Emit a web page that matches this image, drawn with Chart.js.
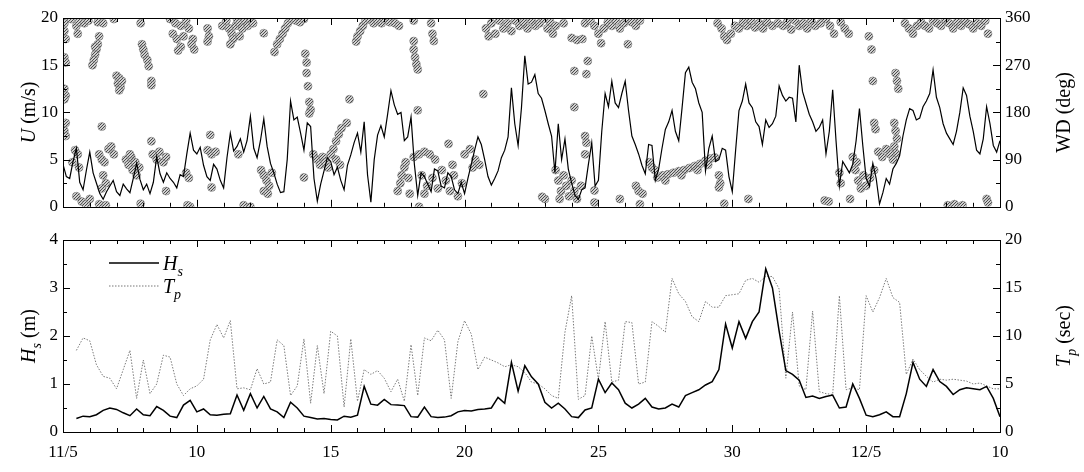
<!DOCTYPE html>
<html>
<head>
<meta charset="utf-8">
<script src="https://cdn.jsdelivr.net/npm/chart.js@4.4.1/dist/chart.umd.min.js"></script>
<style>
  body { margin: 0; background: #fff; }
  #wrap { position: relative; width: 1084px; height: 472px; }
  #topChart { position: absolute; left: 0; top: 0; }
  #botChart { position: absolute; left: 0; top: 222px; }
</style>
</head>
<body>
<div id="wrap">
  <canvas id="topChart" width="1084" height="222"></canvas>
  <canvas id="botChart" width="1084" height="250"></canvas>
</div>
<script>
// days counted from 11/5
const dayLabels = ['11/5', '10', '15', '20', '25', '30', '12/5', '10'];

// wind speed U (m/s), every 3 h from day 0 (one row per day)
const U_START = 0, U_STEP = 0.125;
const uSpeed = [
  4.5, 3.2, 3.0, 4.8, 6.2, 2.6, 1.8, 3.9,
  5.8, 3.6, 2.5, 1.4, 0.8, 1.6, 2.2, 2.8,
  1.6, 1.2, 2.4, 1.9, 1.5, 3.0, 4.6, 2.9,
  1.8, 2.4, 1.4, 2.6, 5.3, 3.5, 2.6, 3.6,
  3.0, 2.6, 2.0, 3.4, 3.2, 5.6, 7.8, 6.0,
  5.6, 6.3, 4.4, 3.2, 2.8, 4.5, 4.0, 2.8,
  2.0, 5.2, 7.8, 5.9, 6.4, 7.2, 5.8, 7.0,
  9.6, 6.2, 5.2, 7.0, 9.3, 6.4, 4.6, 3.6,
  2.4, 1.5, 1.6, 5.0, 11.2, 9.2, 9.5, 7.8,
  6.0, 8.9, 8.5, 3.0, 0.6, 2.4, 3.8, 5.2,
  4.8, 3.4, 4.2, 2.8, 1.8, 4.4, 5.5, 6.8,
  7.8, 5.8, 9.0, 3.4, 0.5, 5.0, 7.6, 8.6,
  7.4, 9.8, 12.3, 10.8, 9.8, 10.0, 7.0, 7.4,
  9.5, 4.5, 1.2, 3.6, 3.2, 2.4, 1.6, 4.0,
  3.8, 2.2, 2.0, 3.6, 3.2, 1.8, 1.4, 2.6,
  1.4, 3.0, 4.5, 6.0, 7.4, 6.6, 5.0, 3.2,
  2.3, 3.0, 3.8, 5.2, 6.0, 7.4, 12.6, 8.8,
  6.5, 10.5, 16.0, 13.0, 13.2, 14.0, 12.0, 11.5,
  10.2, 8.8, 7.5, 3.6, 8.8, 5.0, 7.2, 4.0,
  2.5, 1.2, 0.8, 1.8, 2.0, 4.5, 6.8, 2.2,
  2.8, 8.0, 12.0, 10.6, 13.3, 11.0, 10.5, 12.0,
  13.3, 10.2, 7.5, 6.6, 5.6, 4.4, 3.5, 6.6,
  6.5, 2.8, 4.0, 6.2, 8.2, 9.0, 10.2, 8.0,
  7.0, 10.5, 14.2, 14.8, 13.2, 12.5, 11.0, 10.0,
  3.8, 6.2, 7.5, 4.8, 5.0, 6.2, 6.0, 3.2,
  1.6, 6.0, 10.2, 11.2, 13.0, 11.0, 10.5, 9.0,
  8.5, 6.6, 9.2, 8.4, 8.8, 9.6, 12.8, 11.8,
  11.2, 11.6, 11.5, 9.0, 15.0, 12.2, 11.0, 9.8,
  9.0, 8.0, 8.4, 9.2, 5.6, 8.0, 12.4, 7.0,
  2.2, 4.8, 4.2, 3.6, 4.5, 7.0, 10.4, 6.5,
  3.0, 2.2, 4.6, 3.0, 0.3, 1.5, 3.0, 2.4,
  4.0, 4.6, 5.4, 7.5, 9.2, 10.4, 10.2, 9.2,
  9.4, 10.6, 11.2, 12.0, 14.5, 11.6, 10.5, 8.8,
  7.8, 7.2, 6.6, 8.0, 10.0, 12.6, 11.8, 9.6,
  8.0, 6.0, 5.6, 7.2, 10.6, 8.8, 6.5, 5.8,
  7.0
];

// wind direction WD (deg): [day, deg]
const wdPoints = [
  [0.05, 350], [0.05, 335], [0.1, 320], [0.05, 285], [0.1, 275], [0.05, 225], [0.1, 212], [0.05, 205],
  [0.1, 160], [0.05, 145], [0.1, 135],
  [0.3, 358], [0.5, 345], [0.55, 330], [0.6, 352], [0.8, 350], [0.95, 355], [1.3, 352], [1.5, 350], [1.9, 358],
  [1.35, 325], [1.3, 310], [1.25, 300], [1.2, 290], [1.15, 280], [1.1, 270], [1.2, 305],
  [2.0, 250], [2.1, 245], [2.05, 235], [2.15, 228], [2.2, 240], [2.1, 222],
  [2.9, 350], [2.95, 310], [3.0, 300], [3.05, 290], [3.15, 280], [3.2, 268], [3.3, 240], [3.3, 232],
  [4.0, 358], [4.2, 350], [4.4, 345], [4.6, 355], [4.1, 330], [4.25, 320], [4.4, 305], [4.3, 298],
  [4.5, 325], [4.7, 340], [4.85, 320], [4.9, 300], [4.8, 310],
  [5.4, 340], [5.45, 325], [5.4, 315],
  [5.95, 345], [6.1, 355], [6.2, 340], [6.3, 330], [6.35, 320], [6.45, 345], [6.5, 358], [6.6, 350],
  [6.7, 340], [6.8, 355], [6.9, 345], [7.0, 358], [7.1, 350], [6.25, 310], [6.6, 325], [7.5, 331],
  [7.9, 295], [8.0, 310], [8.1, 320], [8.2, 330], [8.3, 340], [8.4, 350], [8.55, 358], [8.7, 355],
  [8.85, 352], [9.0, 358],
  [0.35, 85], [0.45, 108], [0.55, 100], [0.6, 75], [0.5, 20], [0.7, 10], [0.85, 5], [1.0, 15],
  [1.45, 153], [1.35, 100], [1.45, 90], [1.55, 85], [1.7, 110], [1.8, 115], [1.9, 100],
  [1.5, 60], [1.6, 45], [1.45, 35], [1.35, 5], [1.6, 3],
  [2.35, 90], [2.45, 80], [2.55, 95], [2.6, 70], [2.7, 85], [2.75, 60], [2.85, 75], [2.5, 100],
  [3.3, 125], [3.35, 100], [3.5, 90], [3.6, 105], [3.75, 85], [3.85, 95],
  [2.9, 6], [3.85, 30], [4.6, 65], [4.7, 55], [4.75, 0], [4.65, 3],
  [5.4, 108], [5.55, 100], [5.7, 105], [5.5, 137], [5.55, 37], [6.55, 100], [6.75, 3], [7.0, 0],
  [7.4, 70], [7.5, 60], [7.6, 50], [7.7, 40], [7.5, 30], [7.8, 65], [7.65, 25], [9.0, 56],
  [9.05, 292], [9.1, 275], [9.1, 255], [9.15, 230], [9.2, 200], [9.25, 185], [9.2, 178],
  [10.7, 205], [10.6, 160], [10.1, 110], [10.2, 125], [10.3, 138], [10.4, 150],
  [9.35, 100], [9.5, 90], [9.6, 80], [9.7, 95], [9.8, 85], [9.9, 75], [10.0, 100], [10.2, 90], [10.35, 80],
  [10.95, 315], [11.0, 325], [11.1, 335], [11.2, 345], [11.3, 355], [11.45, 358], [11.6, 350], [11.75, 355],
  [11.9, 350], [12.0, 358], [12.2, 352], [12.4, 350], [12.55, 345],
  [13.1, 355], [13.75, 350], [13.1, 316], [13.8, 330], [13.85, 316],
  [13.1, 300], [13.15, 285], [13.2, 272], [13.25, 262], [13.25, 184],
  [12.5, 30], [12.6, 45], [12.65, 60], [12.75, 75], [12.8, 85], [12.9, 55], [12.95, 25],
  [13.1, 95], [13.3, 100], [13.5, 105], [13.7, 100], [13.9, 90],
  [13.4, 60], [13.6, 40], [13.8, 55], [14.0, 35], [13.5, 25],
  [14.15, 70], [14.3, 50], [14.45, 30], [14.6, 60], [14.75, 20], [14.9, 45], [14.55, 80], [14.4, 120],
  [15.0, 100], [15.2, 110], [15.4, 90], [15.55, 80], [15.3, 75], [13.3, 0], [15.7, 215],
  [15.8, 340], [15.9, 325], [16.0, 350], [16.15, 330], [16.3, 355], [16.45, 340], [16.6, 350], [16.75, 335],
  [16.9, 355], [17.05, 345], [17.2, 352], [17.35, 340], [17.5, 355], [17.65, 345], [17.8, 350], [17.95, 358],
  [18.0, 15],
  [18.1, 340], [18.2, 352], [18.3, 330], [18.4, 345], [18.7, 350], [19.0, 322], [19.2, 318], [19.4, 320],
  [19.5, 350], [19.7, 355], [19.85, 345], [20.0, 330], [20.1, 312], [20.2, 340], [20.35, 352], [20.5, 345],
  [20.65, 355], [20.8, 340], [20.95, 350], [21.1, 358], [21.1, 310], [21.25, 352], [21.4, 345], [21.55, 355],
  [19.6, 278], [19.1, 259], [19.55, 253], [19.1, 190], [19.5, 135], [19.55, 122], [19.5, 100],
  [18.4, 70], [18.5, 50], [18.6, 30], [18.7, 60], [18.8, 40], [18.9, 20], [19.0, 50], [19.1, 30],
  [19.2, 15], [19.35, 40], [18.55, 15], [17.9, 19], [19.85, 31], [19.85, 8], [20.8, 15],
  [21.4, 40], [21.5, 30], [21.65, 25], [21.55, 5], [21.9, 85], [22.0, 75], [22.1, 70],
  [22.2, 56], [22.4, 60], [22.6, 62], [22.8, 65], [23.0, 68], [23.2, 70], [23.4, 74], [23.6, 78],
  [23.8, 82], [24.0, 88], [24.2, 92], [24.35, 94], [22.5, 50], [23.1, 60], [23.7, 70], [24.1, 80],
  [24.5, 60], [24.55, 45], [24.5, 37], [24.7, 6], [25.6, 15],
  [24.45, 350], [24.6, 340], [24.7, 325], [24.8, 318], [24.95, 330], [25.1, 345], [25.25, 340], [25.4, 352],
  [25.55, 345], [25.7, 355], [25.85, 342], [26.0, 350], [26.15, 340], [26.3, 352], [26.5, 345], [26.7, 350],
  [26.9, 345], [27.05, 352], [27.2, 338], [27.35, 355], [27.5, 345], [27.65, 350], [27.8, 340], [27.95, 355],
  [28.1, 345], [28.3, 350], [28.5, 358], [28.65, 345], [28.8, 330], [29.05, 352], [29.2, 340], [29.35, 330],
  [30.1, 325], [30.2, 300], [30.25, 240], [31.1, 255], [31.15, 240], [31.2, 225],
  [31.45, 350], [31.6, 340], [31.75, 330], [31.9, 345], [32.05, 352], [32.2, 345], [32.35, 340], [32.5, 355],
  [32.65, 350], [32.8, 345], [32.95, 358], [33.1, 350], [33.25, 340], [33.4, 352], [33.55, 345], [33.7, 355],
  [33.85, 348], [34.0, 340], [34.15, 350], [34.3, 345], [34.45, 355], [34.55, 330],
  [30.3, 160], [30.35, 148], [31.05, 160], [31.1, 145], [31.15, 130], [31.05, 115], [31.1, 102],
  [30.45, 105], [30.6, 95], [30.75, 110], [30.9, 100], [31.0, 90],
  [29.5, 95], [29.6, 70], [29.7, 50], [29.8, 35], [29.9, 60], [29.65, 85], [29.0, 65], [29.05, 45],
  [30.0, 40], [30.15, 55], [30.3, 70], [28.45, 12], [28.6, 10], [29.4, 15],
  [33.05, 3], [33.3, 5], [33.6, 3], [34.5, 15], [34.55, 8]
];

// significant wave height Hs (m) and peak period Tp (s), every 6 h from day 0.5
const WAVE_START = 0.5, WAVE_STEP = 0.25;
const hsHeight = [
  0.28, 0.33, 0.32, 0.36, 0.45, 0.50, 0.47, 0.40, 0.34, 0.48, 0.36, 0.34, 0.53, 0.45, 0.33, 0.30,
  0.56, 0.66, 0.42, 0.48, 0.36, 0.35, 0.37, 0.38, 0.77, 0.45, 0.80, 0.50, 0.74, 0.48, 0.42, 0.30,
  0.62, 0.50, 0.33, 0.30, 0.27, 0.28, 0.26, 0.25, 0.33, 0.31, 0.35, 0.95, 0.58, 0.56, 0.68, 0.57,
  0.56, 0.55, 0.32, 0.31, 0.52, 0.32, 0.30, 0.31, 0.34, 0.42, 0.45, 0.44, 0.47, 0.48, 0.50, 0.72,
  0.60, 1.45, 0.85, 1.38, 1.15, 1.00, 0.62, 0.50, 0.60, 0.48, 0.32, 0.30, 0.46, 0.50, 1.10, 0.82,
  1.02, 0.88, 0.60, 0.50, 0.58, 0.70, 0.52, 0.48, 0.50, 0.58, 0.52, 0.76, 0.82, 0.88, 0.98, 1.05,
  1.30, 2.25, 1.75, 2.30, 1.95, 2.30, 2.50, 3.40, 3.00, 2.10, 1.28, 1.20, 1.08, 0.72, 0.75, 0.70,
  0.74, 0.77, 0.50, 0.52, 1.00, 0.70, 0.35, 0.32, 0.36, 0.42, 0.32, 0.32, 0.80, 1.45, 1.10, 0.95,
  1.30, 1.05, 0.95, 0.78, 0.88, 0.92, 0.90, 0.88, 0.95, 0.70, 0.32
];
const tpPeriod = [
  8.5, 9.8, 9.5, 7.0, 5.8, 5.6, 4.5, 6.5, 8.5, 3.5, 7.5, 4.0, 5.0, 8.0, 7.8, 5.0,
  3.8, 4.5, 4.8, 5.5, 9.6, 11.2, 9.8, 11.6, 4.5, 4.6, 4.4, 6.6, 5.0, 5.2, 9.6, 9.0,
  3.8, 4.8, 9.7, 3.0, 9.0, 4.0, 10.5, 10.0, 2.6, 9.7, 3.2, 6.5, 6.0, 6.4, 5.6, 4.2,
  5.5, 3.2, 9.1, 3.8, 9.8, 9.5, 10.6, 9.6, 3.5, 9.4, 11.6, 10.2, 6.5, 7.8, 7.5, 7.2,
  6.8, 7.0, 6.8, 6.2, 5.2, 5.0, 4.5, 3.8, 3.5, 10.4, 14.2, 3.4, 3.8, 10.0, 5.5, 11.5,
  5.2, 5.4, 11.5, 11.4, 5.0, 5.2, 11.5, 11.0, 10.4, 16.0, 14.4, 13.6, 12.0, 11.5, 13.6, 13.0,
  13.0, 14.2, 14.3, 14.4, 15.8, 16.0, 15.6, 16.2, 16.2, 14.9, 5.6, 12.5, 4.8, 4.4, 12.6, 4.2,
  4.0, 3.9, 14.2, 4.4, 4.6, 4.4, 14.2, 12.5, 14.0, 16.0, 14.0, 13.5, 6.0, 7.6, 6.5, 5.8,
  5.2, 5.5, 5.4, 5.5, 5.4, 5.3, 5.0, 5.1, 4.8, 4.5, 4.5
];

const FONT = "'Liberation Serif', 'Times New Roman', serif";
Chart.defaults.font.family = FONT;
Chart.defaults.color = '#000';

const series = (vals, start, step) => vals.map((v, i) => ({ x: start + i * step, y: v }));

// hatched grey fill for the direction markers
function hatch() {
  const c = document.createElement('canvas');
  c.width = 3; c.height = 3;
  const p = c.getContext('2d');
  p.fillStyle = '#cfcfcf';
  p.fillRect(0, 0, 3, 3);
  p.strokeStyle = '#4a4a4a';
  p.lineWidth = 1;
  p.beginPath();
  p.moveTo(0, 3); p.lineTo(3, 0);
  p.stroke();
  return p.createPattern(c, 'repeat');
}

// text with italic and subscript parts
function drawRich(ctx, parts, x, y, rot, size, align) {
  ctx.save();
  ctx.translate(x, y);
  ctx.rotate(rot);
  ctx.fillStyle = '#000';
  ctx.textBaseline = 'alphabetic';
  ctx.textAlign = 'left';
  const fontOf = p => (p.italic ? 'italic ' : '') + Math.round(p.sub ? size * 0.72 : size) + 'px ' + FONT;
  let w = 0;
  parts.forEach(p => { ctx.font = fontOf(p); w += ctx.measureText(p.text).width; });
  let cx = align === 'left' ? 0 : -w / 2;
  parts.forEach(p => {
    ctx.font = fontOf(p);
    ctx.fillText(p.text, cx, size * 0.35 + (p.sub ? size * 0.28 : 0));
    cx += ctx.measureText(p.text).width;
  });
  ctx.restore();
}

// frame with inward ticks on all four sides, plus titles
const framePlugin = {
  id: 'frame',
  afterDraw(chart, args, o) {
    const { ctx, chartArea: a, scales } = chart;
    ctx.save();
    ctx.strokeStyle = '#000';
    ctx.lineWidth = 1;
    ctx.strokeRect(Math.round(a.left) + 0.5, Math.round(a.top) + 0.5,
      Math.round(a.right - a.left), Math.round(a.bottom - a.top));
    ctx.beginPath();
    for (let d = 0; d <= 35; d++) {
      const x = Math.round(scales.x.getPixelForValue(d)) + 0.5;
      const len = d % 5 === 0 ? 7 : 4;
      ctx.moveTo(x, a.bottom); ctx.lineTo(x, a.bottom - len);
      ctx.moveTo(x, a.top); ctx.lineTo(x, a.top + len);
    }
    [['y', o.left, 1, a.left], ['y2', o.right, -1, a.right]].forEach(([id, s, dir, x0]) => {
      const sc = scales[id];
      for (let v = sc.min; v <= sc.max + 1e-9; v += s.minor) {
        const y = Math.round(sc.getPixelForValue(v)) + 0.5;
        const major = Math.abs(v / s.major - Math.round(v / s.major)) < 1e-6;
        const len = major ? 7 : 4;
        ctx.moveTo(x0, y); ctx.lineTo(x0 + dir * len, y);
      }
    });
    ctx.stroke();
    ctx.restore();
    const midY = (a.top + a.bottom) / 2;
    drawRich(ctx, o.leftTitle, 28, midY, -Math.PI / 2, 20);
    drawRich(ctx, o.rightTitle, 1063, midY, -Math.PI / 2, 20);
    if (o.legend) {
      const lx = a.left + 46, ly1 = a.top + 23, ly2 = a.top + 46;
      ctx.save();
      ctx.lineWidth = 1.4;
      ctx.strokeStyle = '#000';
      ctx.beginPath(); ctx.moveTo(lx, ly1); ctx.lineTo(lx + 50, ly1); ctx.stroke();
      ctx.lineWidth = 1;
      ctx.strokeStyle = '#777';
      ctx.setLineDash([1.5, 1.5]);
      ctx.beginPath(); ctx.moveTo(lx, ly2); ctx.lineTo(lx + 50, ly2); ctx.stroke();
      ctx.restore();
      drawRich(ctx, [{ text: 'H', italic: true }, { text: 's', italic: true, sub: true }], lx + 54, ly1, 0, 20, 'left');
      drawRich(ctx, [{ text: 'T', italic: true }, { text: 'p', italic: true, sub: true }], lx + 54, ly2, 0, 20, 'left');
    }
  }
};

function fixedWidth(w) { return s => { s.width = w; }; }
function fixedHeight(h) { return s => { s.height = h; }; }

const tickFont = { size: 17, family: FONT };

new Chart(document.getElementById('topChart'), {
  type: 'line',
  data: {
    datasets: [
      {
        label: 'U',
        data: series(uSpeed, U_START, U_STEP),
        borderColor: '#000',
        borderWidth: 1.2,
        pointRadius: 0,
        tension: 0,
        yAxisID: 'y',
        order: 0,
      },
      {
        type: 'scatter',
        label: 'WD',
        data: wdPoints.map(p => ({ x: p[0], y: p[1] })),
        backgroundColor: hatch(),
        borderColor: '#7a7a7a',
        borderWidth: 0.6,
        pointRadius: 4,
        yAxisID: 'y2',
        order: 1,
      },
    ],
  },
  options: {
    responsive: false,
    animation: false,
    layout: { padding: { top: 18, left: 0, right: 0, bottom: 0 } },
    plugins: {
      legend: { display: false },
      tooltip: { enabled: false },
      frame: {
        left: { minor: 2.5, major: 5 },
        right: { minor: 45, major: 90 },
        leftTitle: [{ text: 'U', italic: true }, { text: ' (m/s)' }],
        rightTitle: [{ text: 'WD (deg)' }],
      },
    },
    scales: {
      x: {
        type: 'linear', min: 0, max: 35,
        ticks: { display: false },
        grid: { display: false },
        border: { display: false },
        afterFit: fixedHeight(12),
      },
      y: {
        min: 0, max: 20,
        ticks: { stepSize: 5, font: tickFont, padding: 5 },
        grid: { display: false, drawTicks: false },
        border: { display: false },
        afterFit: fixedWidth(63),
      },
      y2: {
        position: 'right',
        min: 0, max: 360,
        ticks: { stepSize: 90, font: tickFont, padding: 5 },
        grid: { display: false, drawTicks: false },
        border: { display: false },
        afterFit: fixedWidth(84),
      },
    },
  },
  plugins: [framePlugin],
});

new Chart(document.getElementById('botChart'), {
  type: 'line',
  data: {
    datasets: [
      {
        label: 'Hs',
        data: series(hsHeight, WAVE_START, WAVE_STEP),
        borderColor: '#000',
        borderWidth: 1.5,
        pointRadius: 0,
        tension: 0,
        yAxisID: 'y',
        order: 0,
      },
      {
        label: 'Tp',
        data: series(tpPeriod, WAVE_START, WAVE_STEP),
        borderColor: '#7a7a7a',
        borderWidth: 1,
        borderDash: [1.5, 1.5],
        pointRadius: 0,
        tension: 0,
        yAxisID: 'y2',
        order: 1,
      },
    ],
  },
  options: {
    responsive: false,
    animation: false,
    layout: { padding: { top: 18, left: 0, right: 0, bottom: 0 } },
    plugins: {
      legend: { display: false },
      tooltip: { enabled: false },
      frame: {
        left: { minor: 0.5, major: 1 },
        right: { minor: 2.5, major: 5 },
        leftTitle: [{ text: 'H', italic: true }, { text: 's', italic: true, sub: true }, { text: ' (m)' }],
        rightTitle: [{ text: 'T', italic: true }, { text: 'p', italic: true, sub: true }, { text: ' (sec)' }],
        legend: true,
      },
    },
    scales: {
      x: {
        type: 'linear', min: 0, max: 35,
        ticks: {
          stepSize: 5, font: tickFont, padding: 10, autoSkip: false, maxRotation: 0,
          callback: v => dayLabels[Math.round(v / 5)],
        },
        grid: { display: false, drawTicks: false },
        border: { display: false },
        afterFit: fixedHeight(40),
      },
      y: {
        min: 0, max: 4,
        ticks: { stepSize: 1, font: tickFont, padding: 5 },
        grid: { display: false, drawTicks: false },
        border: { display: false },
        afterFit: fixedWidth(63),
      },
      y2: {
        position: 'right',
        min: 0, max: 20,
        ticks: { stepSize: 5, font: tickFont, padding: 5 },
        grid: { display: false, drawTicks: false },
        border: { display: false },
        afterFit: fixedWidth(84),
      },
    },
  },
  plugins: [framePlugin],
});
</script>
</body>
</html>
